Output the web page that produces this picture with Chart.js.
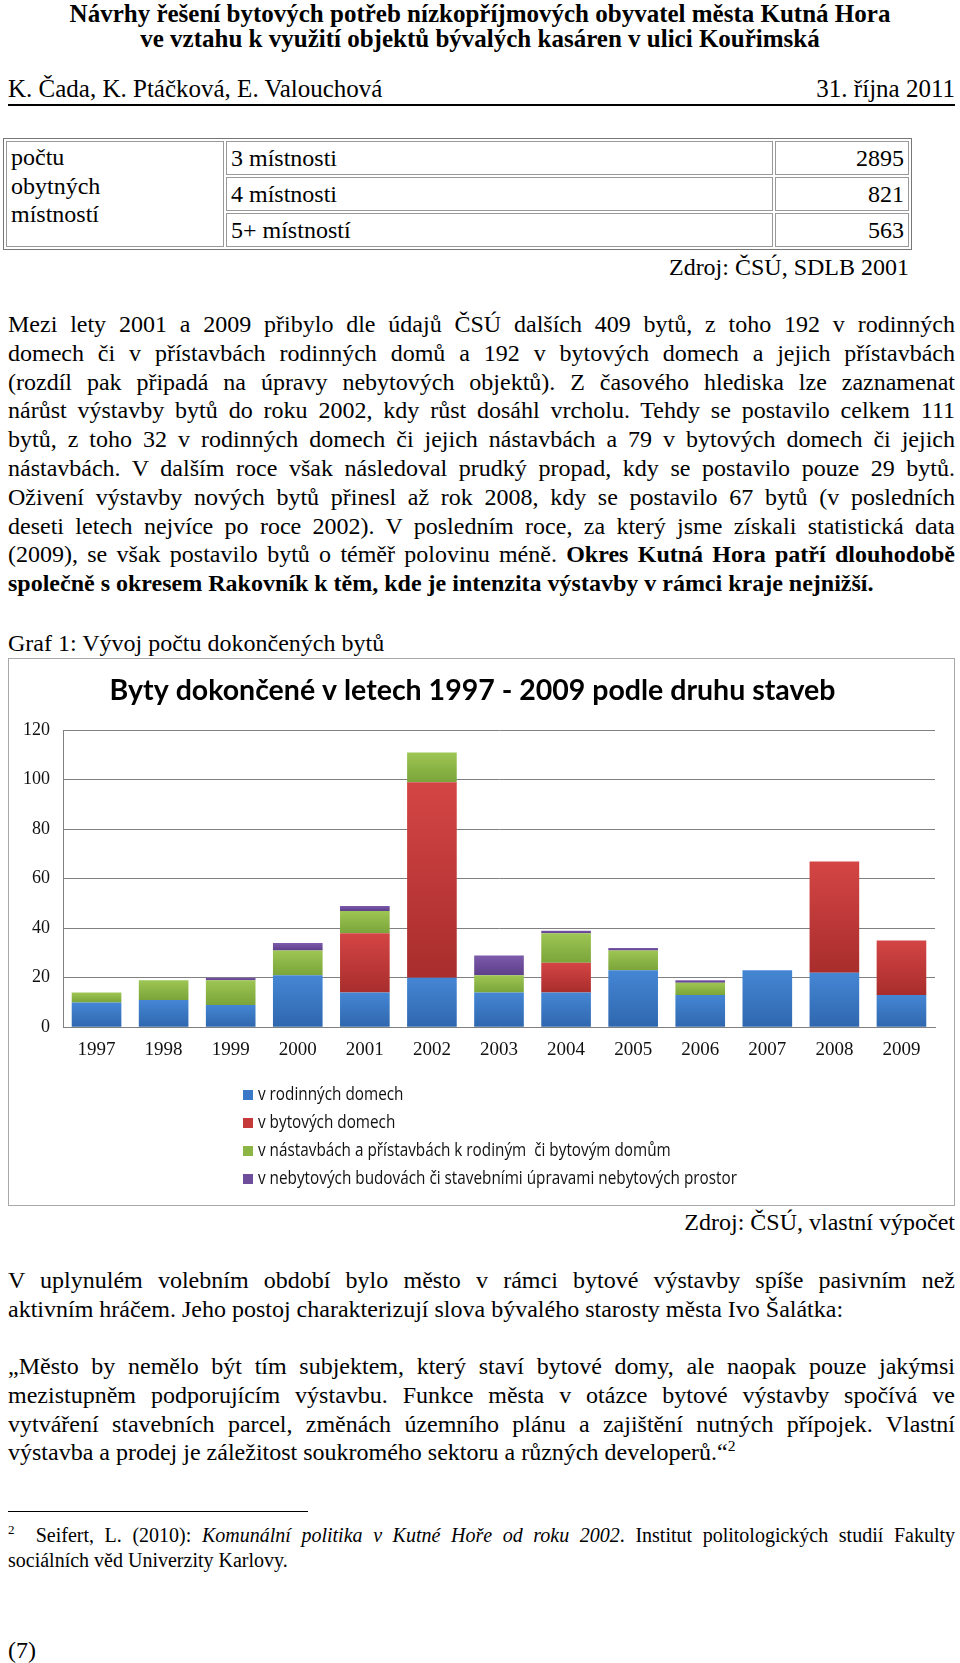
<!DOCTYPE html>
<html lang="cs">
<head>
<meta charset="UTF-8">
<title>Byty dokončené v letech 1997 - 2009</title>
<style>
    body {
        margin: 0;
        background: #fff;
        color: #000;
        font-family: 'Liberation Serif', 'Times New Roman', serif;
    }
    .page {
        position: relative;
        width: 960px;
        height: 1663px;
        overflow: hidden;
    }
    .abs { position: absolute; }
    .head {
        left: 0; width: 960px;
        text-align: center;
        font-weight: bold;
        font-size: 25px;
        line-height: 25px;
    }
    .authors {
        left: 8px; width: 947px;
        font-size: 25px;
        line-height: 30px;
        border-bottom: 2px solid #000;
    }
    .authors span { float: right; }
    table.rooms {
        left: 3px; top: 138px;
        width: 909px; height: 112px;
        border: 1px solid #777;
        border-spacing: 2px;
        font-size: 24px;
    }
    table.rooms td {
        border: 1px solid #999;
        padding: 0 4px;
        line-height: 28px;
    }
    .src {
        right: 51px;
        font-size: 24px;
        line-height: 28px;
    }
    .para {
        left: 8px; width: 947px;
        font-size: 24px;
        line-height: 28.8px;
    }
    .para div { text-align: justify; text-align-last: justify; }
    .para div.l { text-align-last: left; }
    .chartBox {
        left: 8px; top: 658px;
        width: 947px; height: 548px;
        border: 1px solid #a8a8a8;
        box-sizing: border-box;
    }
    .foot {
        left: 8px; width: 947px;
        font-size: 20px;
        line-height: 25px;
    }
    .foot div { text-align: justify; text-align-last: justify; }
    .foot div.l { text-align-last: left; }
    sup { font-size: 0.65em; line-height: 0; }
</style>
</head>
<body>
<div class="page">
    <div class="abs head" style="top:1px">Návrhy řešení bytových potřeb nízkopříjmových obyvatel města Kutná Hora</div>
    <div class="abs head" style="top:26px">ve vztahu k využití objektů bývalých kasáren v ulici Kouřimská</div>

    <div class="abs authors" style="top:74px">K. Čada, K. Ptáčková, E. Valouchová<span>31. října 2011</span></div>

    <table class="abs rooms">
        <tr>
            <td rowspan="3" style="width:208px; vertical-align:top; padding-top:1px; line-height:28.5px">počtu<br>obytných<br>místností</td>
            <td>3 místnosti</td>
            <td style="width:124px; text-align:right">2895</td>
        </tr>
        <tr>
            <td>4 místnosti</td>
            <td style="text-align:right">821</td>
        </tr>
        <tr>
            <td>5+ místností</td>
            <td style="text-align:right">563</td>
        </tr>
    </table>
    <div class="abs src" style="top:253px">Zdroj: ČSÚ, SDLB 2001</div>

    <div class="abs para" style="top:310px">
        <div>Mezi lety 2001 a 2009 přibylo dle údajů ČSÚ dalších 409 bytů, z toho 192 v rodinných</div>
        <div>domech či v přístavbách rodinných domů a 192 v bytových domech a jejich přístavbách</div>
        <div>(rozdíl pak připadá na úpravy nebytových objektů). Z časového hlediska lze zaznamenat</div>
        <div>nárůst výstavby bytů do roku 2002, kdy růst dosáhl vrcholu. Tehdy se postavilo celkem 111</div>
        <div>bytů, z toho 32 v rodinných domech či jejich nástavbách a 79 v bytových domech či jejich</div>
        <div>nástavbách. V dalším roce však následoval prudký propad, kdy se postavilo pouze 29 bytů.</div>
        <div>Oživení výstavby nových bytů přinesl až rok 2008, kdy se postavilo 67 bytů (v posledních</div>
        <div>deseti letech nejvíce po roce 2002). V posledním roce, za který jsme získali statistická data</div>
        <div>(2009), se však postavilo bytů o téměř polovinu méně. <b>Okres Kutná Hora patří dlouhodobě</b></div>
        <div class="l"><b>společně s okresem Rakovník k těm, kde je intenzita výstavby v rámci kraje nejnižší.</b></div>
    </div>

    <div class="abs para" style="top:629px">Graf 1: Vývoj počtu dokončených bytů</div>

    <div class="abs chartBox">
        <canvas id="bytyChart" width="945" height="546"></canvas>
    </div>

    <div class="abs src" style="top:1208px; right:5px">Zdroj: ČSÚ, vlastní výpočet</div>

    <div class="abs para" style="top:1266px">
        <div>V uplynulém volebním období bylo město v rámci bytové výstavby spíše pasivním než</div>
        <div class="l">aktivním hráčem. Jeho postoj charakterizují slova bývalého starosty města Ivo Šalátka:</div>
    </div>

    <div class="abs para" style="top:1352px">
        <div>„Město by nemělo být tím subjektem, který staví bytové domy, ale naopak pouze jakýmsi</div>
        <div>mezistupněm podporujícím výstavbu. Funkce města v otázce bytové výstavby spočívá ve</div>
        <div>vytváření stavebních parcel, změnách územního plánu a zajištění nutných přípojek. Vlastní</div>
        <div class="l">výstavba a prodej je záležitost soukromého sektoru a různých developerů.“<sup>2</sup></div>
    </div>

    <div class="abs" style="left:8px; top:1511px; width:300px; border-top:1px solid #000"></div>
    <div class="abs foot" style="top:1523px">
        <div><sup>2</sup>&nbsp; Seifert, L. (2010): <i>Komunální politika v Kutné Hoře od roku 2002</i>. Institut politologických studií Fakulty</div>
        <div class="l">sociálních věd Univerzity Karlovy.</div>
    </div>

    <div class="abs" style="left:8px; top:1636px; font-size:24px; line-height:28px">(7)</div>
</div>

<script src="https://cdn.jsdelivr.net/npm/chart.js"></script>
<script>
    // hodnoty
    const roky = ['1997', '1998', '1999', '2000', '2001', '2002', '2003', '2004', '2005', '2006', '2007', '2008', '2009'];
    const rodinneDomy = [10, 11, 9, 21, 14, 20, 14, 14, 23, 13, 23, 22, 13];
    const bytoveDomy = [0, 0, 0, 0, 24, 79, 0, 12, 0, 0, 0, 45, 22];
    const nastavby = [4, 8, 10, 10, 9, 12, 7, 12, 8, 5, 0, 0, 0];
    const nebytove = [0, 0, 1, 3, 2, 0, 8, 1, 1, 1, 0, 0, 0];
    const yTicks = [0, 20, 40, 60, 80, 100, 120];

    const rady = [rodinneDomy, bytoveDomy, nastavby, nebytove];

    // svisly prechod barvy v kazdem dilu sloupce (svetlejsi nahore)
    function prechod(svetla, tmava, ds) {
        return (c) => {
            const y = c.chart.scales.y;
            if (c.type !== 'data' || !y) return tmava;
            let zacatek = 0;
            for (let k = 0; k < ds; k++) zacatek += rady[k][c.dataIndex];
            const konec = zacatek + rady[ds][c.dataIndex];
            const top = y.getPixelForValue(konec);
            const bottom = y.getPixelForValue(zacatek);
            if (!(bottom > top)) return tmava;
            const g = c.chart.ctx.createLinearGradient(0, top, 0, bottom);
            g.addColorStop(0, svetla);
            g.addColorStop(1, tmava);
            return g;
        };
    }

    // legenda pod grafem - jedna polozka na radek
    const svislaLegenda = {
        id: 'svislaLegenda',
        afterDraw(chart) {
            const ctx = chart.ctx;
            const top = 436;
            ctx.save();
            ctx.font = '18px "Open Sans", sans-serif';
            ctx.textBaseline = 'middle';
            chart.data.datasets.forEach((ds, i) => {
                const y = top + i * 28;
                ctx.fillStyle = ds.barva;
                ctx.fillRect(234, y - 5, 10, 10);
                ctx.fillStyle = '#111';
                const w = ctx.measureText(ds.label).width;
                ctx.fillText(ds.label, 249, y, w * 0.85);
            });
            ctx.restore();
        }
    };

    new Chart(document.getElementById('bytyChart'), {
        type: 'bar',
        data: {
            labels: roky,
            datasets: [
                { label: 'v rodinných domech', data: rodinneDomy, barva: '#3a79c8', backgroundColor: prechod('#4586d4', '#2f67ae', 0) },
                { label: 'v bytových domech', data: bytoveDomy, barva: '#c63b3a', backgroundColor: prechod('#d44545', '#a82d2c', 1) },
                { label: 'v nástavbách a přístavbách k rodiným  či bytovým domům', data: nastavby, barva: '#8db545', backgroundColor: prechod('#9dc654', '#7ba43a', 2) },
                { label: 'v nebytových budovách či stavebními úpravami nebytových prostor', data: nebytove, barva: '#6e4d9d', backgroundColor: prechod('#7c5bab', '#5e3f8a', 3) }
            ]
        },
        options: {
            responsive: false,
            animation: false,
            layout: { padding: { left: 1, right: 19, top: 0, bottom: 133 } },
            datasets: { bar: { categoryPercentage: 1, barPercentage: 0.74 } },
            plugins: {
                legend: { display: false },
                tooltip: { enabled: false },
                title: {
                    display: true,
                    text: 'Byty dokončené v letech 1997 - 2009 podle druhu staveb',
                    color: '#000',
                    font: { family: 'Lato', size: 28.5, weight: 'bold' },
                    padding: { top: 15, bottom: 22 }
                }
            },
            scales: {
                x: {
                    stacked: true,
                    grid: { display: false, drawTicks: false },
                    border: { color: '#808080' },
                    ticks: { color: '#111', font: { family: "'Liberation Serif', serif", size: 19 }, padding: 11 }
                },
                y: {
                    stacked: true,
                    min: 0,
                    max: 120,
                    afterBuildTicks: (axis) => { axis.ticks = yTicks.map(v => ({ value: v })); },
                    grid: { color: '#808080', drawTicks: false },
                    border: { color: '#808080' },
                    ticks: { color: '#111', font: { family: "'Liberation Serif', serif", size: 18 }, padding: 13 }
                }
            }
        },
        plugins: [svislaLegenda]
    });
</script>
</body>
</html>
